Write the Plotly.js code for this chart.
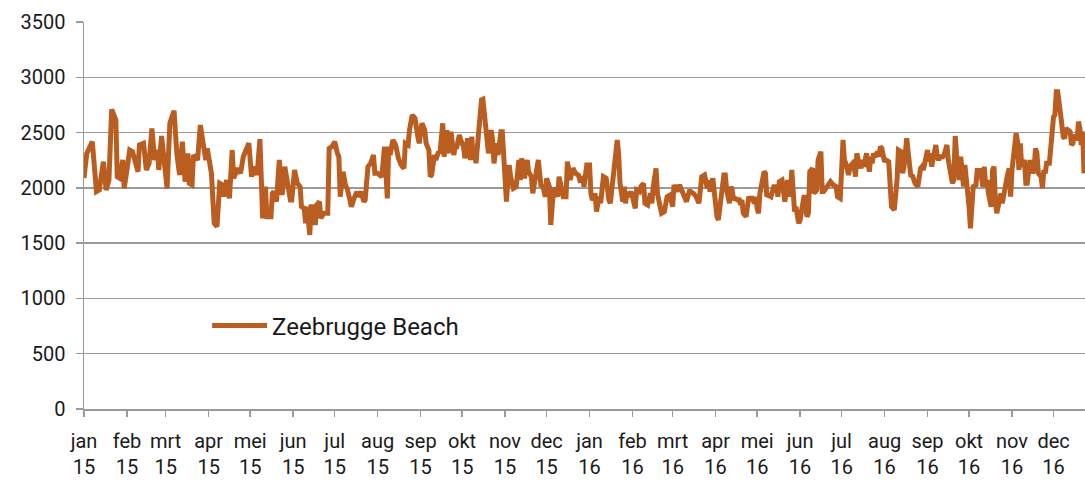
<!DOCTYPE html>
<html>
<head>
<meta charset="utf-8">
<script src="https://cdn.plot.ly/plotly-3.0.1.min.js"></script>
<style>html,body{margin:0;padding:0;background:#fff;}#chart{width:1085px;height:481px;}</style>
</head>
<body>
<div id="chart"></div>
<script>
// Series start date; days = days since start
const startDate = '2015-01-01';
const seriesName = 'Zeebrugge Beach';
const days = [0,2,6,9,11,14,16,18,20,23,24,26,28,29,31,33,35,37,39,40,43,45,47,49,51,53,54,56,58,60,62,65,67,69,71,73,75,76,78,79,82,84,86,88,89,91,92,94,96,98,100,101,103,105,107,108,111,113,115,117,119,121,123,125,127,129,131,132,135,136,137,139,141,143,145,147,149,150,152,154,156,157,159,160,161,163,164,166,167,168,170,171,173,176,177,179,181,183,184,185,187,189,190,192,193,195,197,198,200,202,203,205,207,209,210,212,214,215,217,219,220,221,223,225,227,229,231,232,234,235,237,239,241,242,244,246,247,249,250,251,253,254,256,257,259,260,262,263,264,265,267,268,269,271,272,274,275,277,279,280,281,282,283,285,287,288,290,291,292,294,295,296,297,298,299,301,302,303,304,305,306,307,308,310,312,313,314,315,316,318,320,321,323,324,326,328,330,331,332,333,334,336,337,338,339,340,342,343,344,345,346,348,349,350,351,353,355,357,358,360,361,363,365,366,367,368,369,370,372,373,374,375,377,378,379,380,381,383,384,385,386,387,389,390,391,392,393,395,396,398,399,401,402,404,405,407,409,410,411,413,414,416,417,419,420,421,423,425,426,427,428,430,432,433,435,437,438,440,442,444,445,446,448,450,451,452,454,455,457,458,460,462,463,464,466,467,468,469,470,472,473,474,475,476,478,479,480,481,482,484,485,486,487,488,490,491,492,493,494,496,498,500,501,502,504,505,506,508,509,510,511,512,513,514,516,517,519,520,521,522,523,524,526,527,529,530,532,533,534,536,539,541,543,544,546,547,548,549,550,552,553,555,556,557,558,559,561,562,563,565,567,568,569,570,571,573,574,575,576,578,579,581,582,583,585,587,588,590,591,592,593,594,595,597,598,599,600,602,603,604,605,606,608,609,610,611,612,614,615,616,617,618,620,621,622,623,624,626,627,628,629,630,632,633,634,635,636,638,639,640,641,642,644,645,646,647,649,650,651,652,653,655,656,657,658,659,661,662,663,664,665,667,668,669,670,671,673,674,675,676,677,679,680,681,682,683,685,686,687,688,689,691,692,693,694,695,697,698,699,700,701,702,703,704,705,707,708,709,711,712,713,714,715,717,718,719,720,721,722];
const zeebrugge = [2090,2312,2418,1966,1981,2237,1981,2071,2710,2614,2101,2086,2252,1996,2162,2342,2327,2237,2146,2388,2403,2162,2222,2538,2252,2342,2162,2469,2252,1996,2584,2698,2312,2116,2418,2056,2312,2041,2026,2297,2252,2568,2403,2252,2357,2162,2131,1679,1649,2041,2026,1920,2071,1905,2342,2086,2177,2131,2282,2342,2403,2101,2192,2116,2440,1724,2011,1739,1739,1950,1966,1875,2252,1935,2192,2041,1890,1890,2162,2041,2011,1830,1815,1679,1830,1574,1830,1830,1664,1845,1875,1724,1770,1770,2357,2373,2418,2312,2282,1920,2146,2011,1996,1890,1830,1905,1966,1920,1966,1875,1890,2192,2222,2297,2131,2131,2101,2101,2373,1905,2373,2297,2433,2388,2267,2207,2177,2403,2388,2523,2659,2629,2463,2403,2584,2523,2403,2342,2101,2116,2297,2252,2327,2312,2584,2282,2523,2312,2433,2508,2297,2373,2357,2478,2433,2373,2267,2448,2252,2463,2252,2342,2222,2553,2795,2801,2553,2327,2312,2523,2433,2222,2312,2403,2297,2508,2508,2312,2041,1875,2071,2207,2101,1996,2011,2146,2252,2071,2267,2086,2252,2146,2101,1950,2116,2252,2011,2026,1981,1920,2086,2011,1664,1860,1996,1981,1920,2101,2041,1981,1920,1920,2237,2162,2071,2177,2131,2116,2071,2086,2011,2207,2207,1950,1890,1905,1950,1785,1920,1860,1950,2101,2086,1950,1890,1860,1981,2282,2418,2433,2312,2041,1875,2011,1860,1966,1920,1966,1920,1815,1981,1966,2011,2041,1860,1845,1950,1860,2011,2177,1950,1830,1770,1785,1890,1920,1935,1830,2026,1981,1966,2026,1966,1950,1875,1966,1966,1950,1920,1860,2026,2101,2116,1996,2071,1966,2086,1920,1739,1709,1920,2116,2116,1981,1860,2011,1981,1890,1905,1890,1905,1845,1890,1770,1739,1860,1920,1890,1920,1860,1920,1815,1770,1950,2101,2146,2131,1920,1935,1920,2011,2011,1920,2056,2071,1920,1875,2071,1950,1920,2162,1950,1785,1830,1679,1709,1920,1935,1830,1739,1770,2146,2177,1950,1981,2252,2327,1966,1966,1996,2056,2026,2011,1920,1905,2162,2433,2252,2222,2116,2192,2222,2192,2101,2312,2252,2177,2252,2192,2312,2146,2282,2222,2312,2282,2327,2282,2373,2357,2237,2252,2237,1890,1830,1800,2071,2342,2327,2131,2192,2312,2448,2327,2101,2116,2056,2041,2011,2162,2177,2192,2162,2282,2342,2237,2312,2192,2312,2388,2282,2252,2282,2282,2297,2373,2388,2252,2101,2041,2071,2469,2297,2071,2282,2131,2011,2207,2011,1830,1634,1830,2011,2026,2177,2101,2177,2011,2192,2011,2071,1950,1830,2162,2192,1890,1770,1890,1950,1860,1935,2026,2131,2177,1920,2162,2282,2493,2418,2162,2403,2192,2252,2041,2041,2192,2252,2131,2177,2357,2312,2131,2101,1996,2162,2131,2222,2222,2403,2433,2644,2659,2870,2870,2704,2674,2463,2448,2538,2523,2508,2388,2403,2478,2433,2599,2538,2388,2508,2131];

const monthNames = ['jan','feb','mrt','apr','mei','jun','jul','aug','sep','okt','nov','dec'];
const yearLabels = ['15','16'];
const yearValues = [2015, 2016];

const t0 = Date.parse(startDate + 'T00:00:00Z');
const dates = days.map(d => new Date(t0 + d * 86400000).toISOString().slice(0, 10));

const tickvals = [], ticktext = [];
yearValues.forEach((y, yi) => {
  monthNames.forEach((m, mi) => {
    tickvals.push(y + '-' + String(mi + 1).padStart(2, '0') + '-01');
    ticktext.push(m + '<br>' + yearLabels[yi]);
  });
});

const lineColor = 'rgb(185,93,32)';
const gridColor = '#9a9a9a';
const fontFam = 'Roboto, "DejaVu Sans", sans-serif';

const trace = {
  type: 'scatter', mode: 'lines', name: seriesName,
  x: dates, y: zeebrugge,
  line: {color: lineColor, width: 5, shape: 'linear'},
  hoverinfo: 'x+y'
};

const layout = {
  width: 1085, height: 481,
  margin: {l: 84, r: 0, t: 22, b: 72, pad: 0},
  paper_bgcolor: '#fff', plot_bgcolor: '#fff',
  font: {family: fontFam, size: 20, color: '#1a1a1a'},
  showlegend: true,
  legend: {
    x: 0.123, y: 0.2145, xanchor: 'left', yanchor: 'middle',
    bgcolor: 'rgba(0,0,0,0)', borderwidth: 0,
    font: {family: fontFam, size: 24, color: '#1a1a1a'},
    itemwidth: 55
  },
  xaxis: {
    type: 'date',
    range: ['2015-01-01', '2016-12-23 17:00'],
    tickmode: 'array', tickvals: tickvals, ticktext: ticktext,
    tickangle: 0,
    showgrid: false, zeroline: false,
    showline: true, linecolor: gridColor, linewidth: 1.5,
    ticks: 'outside', ticklen: 6, tickwidth: 1.5, tickcolor: gridColor,
    tickfont: {family: fontFam, size: 20, color: '#1a1a1a'},
    ticklabelstandoff: 7
  },
  yaxis: {
    range: [0, 3500], tick0: 0, dtick: 500,
    showgrid: true, gridcolor: gridColor, gridwidth: 1.5,
    zeroline: false,
    showline: true, linecolor: gridColor, linewidth: 1.5,
    ticks: 'outside', ticklen: 7, tickwidth: 1.5, tickcolor: gridColor,
    tickfont: {family: fontFam, size: 20, color: '#1a1a1a'},
    ticklabelstandoff: 6
  }
};

Plotly.newPlot('chart', [trace], layout, {displayModeBar: false, staticPlot: true});
</script>
</body>
</html>
